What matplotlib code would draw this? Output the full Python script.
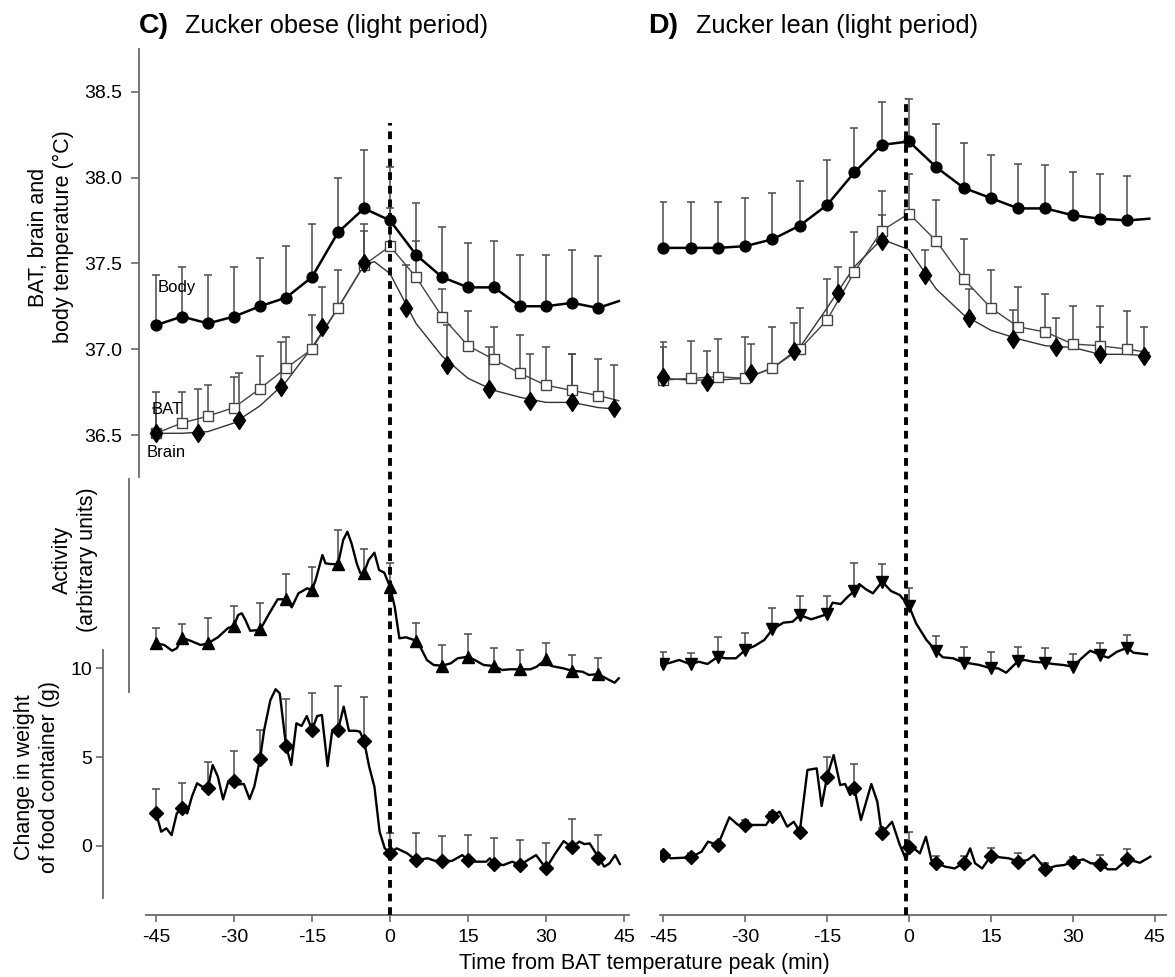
import numpy as np
import matplotlib
matplotlib.use("Agg")
import matplotlib.pyplot as plt

plt.rcParams['font.family'] = ['Liberation Sans', 'DejaVu Sans']

# ---------------- data ----------------
t_mark = [-45, -40, -35, -30, -25, -20, -15, -10, -5, 0, 5, 10, 15, 20, 25, 30, 35, 40]
t_brain = [-45, -37, -29, -21, -13, -5, 3, 11, 19, 27, 35, 43]
t_end = 44
x_ticks = [-45, -30, -15, 0, 15, 30, 45]
temp_ticks = [36.5, 37.0, 37.5, 38.0, 38.5]
food_ticks = [0, 5, 10]

# Zucker obese – temperatures (°C)
obese_body = [37.14, 37.19, 37.15, 37.19, 37.25, 37.30, 37.42, 37.68, 37.82, 37.75,
              37.55, 37.42, 37.36, 37.36, 37.25, 37.25, 37.27, 37.24]
obese_body_end = 37.28
obese_body_err = [0.29, 0.29, 0.28, 0.29, 0.28, 0.30, 0.31, 0.32, 0.34, 0.31,
                  0.30, 0.29, 0.26, 0.27, 0.30, 0.30, 0.31, 0.30]
obese_bat = [36.51, 36.57, 36.61, 36.66, 36.77, 36.89, 37.00, 37.24, 37.49, 37.60,
             37.42, 37.19, 37.02, 36.94, 36.86, 36.79, 36.76, 36.73]
obese_bat_end = 36.70
obese_bat_err = [0.24, 0.18, 0.18, 0.18, 0.19, 0.18, 0.20, 0.22, 0.24, 0.22,
                 0.21, 0.16, 0.20, 0.19, 0.22, 0.22, 0.21, 0.21]
obese_brain = [36.51, 36.51, 36.59, 36.78, 37.13, 37.50, 37.24, 36.91, 36.77, 36.70, 36.69, 36.66]
obese_brain_err = [0.15, 0.26, 0.27, 0.26, 0.23, 0.19, 0.25, 0.23, 0.24, 0.27, 0.28, 0.25]
obese_brain_line_t = [-45, -40, -35, -30, -25, -20, -15, -10, -5, -3, 0, 5, 10, 15, 20, 25, 30, 35, 40, 44]
obese_brain_line = [36.51, 36.51, 36.52, 36.57, 36.67, 36.81, 37.01, 37.24, 37.49, 37.51, 37.44,
                    37.15, 36.96, 36.83, 36.76, 36.72, 36.69, 36.69, 36.66, 36.65]

# Zucker lean – temperatures (°C)
lean_body = [37.59, 37.59, 37.59, 37.60, 37.64, 37.72, 37.84, 38.03, 38.19, 38.21,
             38.06, 37.94, 37.88, 37.82, 37.82, 37.78, 37.76, 37.75]
lean_body_end = 37.76
lean_body_err = [0.27, 0.27, 0.27, 0.28, 0.27, 0.26, 0.26, 0.26, 0.25, 0.25,
                 0.25, 0.26, 0.25, 0.26, 0.25, 0.25, 0.26, 0.26]
lean_bat = [36.82, 36.83, 36.84, 36.83, 36.89, 37.00, 37.17, 37.45, 37.69, 37.79,
            37.63, 37.41, 37.24, 37.13, 37.10, 37.03, 37.02, 37.00]
lean_bat_end = 36.98
lean_bat_err = [0.22, 0.22, 0.22, 0.24, 0.24, 0.24, 0.24, 0.23, 0.23, 0.23,
                0.24, 0.23, 0.22, 0.23, 0.22, 0.22, 0.23, 0.22]
lean_brain = [36.84, 36.81, 36.86, 36.99, 37.33, 37.63, 37.43, 37.18, 37.06, 37.01, 36.97, 36.96]
lean_brain_err = [0.17, 0.18, 0.17, 0.16, 0.15, 0.15, 0.15, 0.17, 0.17, 0.17, 0.16, 0.17]
lean_brain_line_t = [-45, -40, -35, -30, -25, -20, -15, -10, -5, 0, 5, 10, 15, 20, 25, 30, 35, 40, 44]
lean_brain_line = [36.83, 36.82, 36.82, 36.83, 36.89, 37.01, 37.24, 37.48, 37.64, 37.58,
                   37.35, 37.20, 37.11, 37.06, 37.02, 37.01, 36.97, 36.97, 36.96]

# Activity (arbitrary units)
obese_act = [5.67, 6.23, 5.67, 7.43, 7.07, 10.07, 11.0, 13.57, 12.73, 11.33,
             5.93, 3.43, 4.33, 3.4, 3.07, 4.07, 2.93, 2.6]
obese_act_err = [1.56, 1.34, 2.5, 2.0, 2.66, 2.53, 2.27, 3.43, 2.34, 2.4,
                 1.74, 2.07, 2.27, 1.77, 1.93, 1.6, 1.57, 1.63]
obese_act_line_t = [-45, -43.4, -41.9, -41, -40, -38.4, -36.4, -35, -33.1, -31.2,
                    -30, -29.2, -28.5, -27.8, -26.9, -25, -23.2, -21.6, -20, -18.9,
                    -17.6, -15.9, -15, -14.3, -13, -12.4, -11.5, -10, -9, -8.2,
                    -7.4, -6.4, -5.7, -5, -4.1, -3, -2.1, -1.1, 0, 0.9,
                    1.8, 3.1, 5, 5.8, 7.1, 8.4, 10, 11.7, 13, 15,
                    16.3, 18, 20, 21.6, 23, 25, 27, 28.2, 30, 31,
                    33.3, 35, 37, 38.3, 40, 41.9, 43.2, 44]
obese_act_line = [5.67, 5.5, 4.93, 5.17, 6.23, 5.93, 5.5, 5.67, 6.27, 7.17,
                  7.43, 8.5, 8.67, 8.0, 6.93, 7.0, 8.67, 10.07, 10.07, 9.27,
                  10.67, 11.17, 11.0, 12.0, 14.5, 13.67, 13.6, 13.57, 16.0, 16.83,
                  15.67, 13.67, 12.67, 12.73, 14.0, 14.73, 13.0, 12.73, 11.33, 9.33,
                  6.17, 6.27, 5.93, 5.33, 4.0, 3.5, 3.43, 3.67, 4.17, 4.33,
                  4.0, 3.5, 3.4, 3.0, 3.07, 3.07, 3.07, 3.33, 4.07, 3.4,
                  3.17, 2.93, 2.83, 2.5, 2.6, 2.07, 1.73, 2.17]

lean_act = [3.57, 3.57, 4.33, 5.0, 7.07, 8.5, 8.6, 10.9, 11.77, 9.4,
            4.9, 3.73, 3.17, 3.9, 3.67, 3.33, 4.5, 5.23]
lean_act_err = [1.2, 1.16, 2.0, 1.67, 2.1, 1.93, 1.8, 2.77, 1.8, 1.83,
                1.5, 1.6, 1.66, 1.43, 1.5, 1.27, 1.17, 1.27]
lean_act_line_t = [-45, -43.7, -42.1, -40, -38.5, -36.9, -35, -33.6, -31.7, -30,
                   -28.3, -26.5, -25, -23, -21.3, -20, -19.2, -17.9, -16.4, -15,
                   -14, -12.5, -11.2, -10, -9.1, -7.9, -6.6, -5, -4.5, -3.3,
                   -1.7, 0, 1.3, 3.2, 5, 6.2, 8.1, 10, 11.1, 12.9,
                   15, 16.3, 17.8, 20, 21.2, 22.7, 25, 26.4, 28.3, 30,
                   31.6, 33.2, 35, 36.5, 38.1, 40, 41.1, 43.6]
lean_act_line = [3.57, 3.73, 4.0, 3.57, 3.83, 3.6, 4.33, 4.17, 4.17, 5.0,
                 5.4, 6.0, 7.07, 7.73, 7.83, 8.5, 8.33, 8.07, 8.33, 8.6,
                 9.73, 9.6, 10.33, 10.9, 11.6, 11.07, 10.67, 11.77, 11.6, 10.9,
                 10.5, 9.4, 7.67, 6.0, 4.9, 4.27, 4.17, 3.73, 3.67, 3.5,
                 3.17, 3.17, 2.73, 3.9, 4.0, 3.83, 3.73, 3.6, 3.5, 3.33,
                 4.17, 4.93, 4.5, 4.23, 4.83, 5.23, 4.73, 4.57]

# Change in weight of food container (g)
obese_food = [1.86, 2.14, 3.27, 3.65, 4.87, 5.64, 6.52, 6.52, 5.92, -0.39,
              -0.81, -0.86, -0.81, -1.03, -1.09, -1.28, -0.09, -0.71]
obese_food_err = [1.32, 1.41, 1.43, 1.69, 1.65, 2.61, 2.11, 2.50, 2.44, 1.09,
                  1.54, 1.42, 1.41, 1.44, 1.41, 1.45, 1.59, 1.31]
obese_food_line_t = [-45, -44, -43, -42, -41, -40, -39, -38.1, -37.1, -36.1,
                     -35, -34.1, -33.1, -32.1, -31.1, -30, -29.1, -28.1, -27, -26.1,
                     -25, -24.2, -23, -22, -21.2, -20, -19, -18, -17, -16,
                     -15, -14, -13.1, -12, -11.1, -10, -8.9, -7.9, -6.6, -5.8,
                     -5, -4, -3, -2, -1, 0, 1.3, 3.3, 5, 7.3,
                     8.6, 10, 11.9, 13.9, 15, 16.5, 18.5, 19.2, 20, 21.8,
                     23.5, 25, 26.5, 28.1, 30, 31.8, 33.4, 35, 36.4, 37.4,
                     38.4, 40.2, 41.2, 42.2, 43.3, 44.2]
obese_food_line = [1.86, 0.79, 0.98, 0.60, 1.82, 2.14, 1.82, 2.76, 3.52, 3.33,
                   3.27, 4.55, 3.89, 2.61, 3.61, 3.65, 3.46, 3.48, 2.63, 3.33,
                   4.87, 6.52, 8.21, 8.82, 8.59, 5.64, 4.55, 6.90, 6.75, 7.31,
                   6.52, 7.31, 7.37, 4.49, 6.52, 6.52, 7.84, 6.48, 6.48, 6.43,
                   5.92, 4.45, 3.33, 0.79, -0.15, -0.39, -0.15, -0.43, -0.81, -0.71,
                   -0.85, -0.86, -0.86, -0.53, -0.81, -0.90, -0.90, -0.71, -1.03, -1.09,
                   -0.90, -1.09, -0.81, -0.53, -1.28, -0.43, 0.26, -0.09, 0.23, 0.09,
                   0.13, -0.71, -1.18, -1.00, -0.53, -1.03]

lean_food = [-0.52, -0.65, 0.04, 1.17, 1.69, 0.79, 3.89, 3.24, 0.70, -0.06,
             -0.96, -0.96, -0.58, -0.90, -1.33, -0.90, -1.03, -0.77]
lean_food_err = [0.18, 0.26, 0.19, 0.28, 0.23, 0.19, 1.09, 1.35, 0.28, 0.85,
                 0.38, 0.38, 0.43, 0.51, 0.37, 0.28, 0.51, 0.57]
lean_food_line_t = [-45, -43.6, -40, -38, -36.8, -35, -32.9, -31.3, -30, -27.9,
                    -26.2, -25, -23.7, -22.3, -21.1, -20, -18.6, -16.9, -16, -15,
                    -13.8, -12.6, -11.7, -10.8, -10, -8.8, -6.9, -5.8, -5, -3.1,
                    -1.7, -0.5, 0.1, 2.0, 3.1, 4.1, 5, 6.6, 8.4, 10,
                    11.2, 12.1, 13.4, 15, 16.8, 18.3, 20, 21.7, 22.9, 25,
                    26.9, 28.4, 30, 31.9, 33.3, 35, 36.4, 37.9, 40, 42.3, 44.2]
lean_food_line = [-0.52, -0.71, -0.66, -0.34, 0.23, 0.04, 1.60, 1.17, 1.17, 1.17,
                  1.17, 1.69, 1.92, 1.07, 1.35, 0.79, 4.27, 4.36, 2.24, 3.89,
                  5.11, 3.42, 3.48, 2.86, 3.23, 1.45, 3.48, 2.48, 0.70, 1.35,
                  0.06, -0.81, 0.06, -0.43, 0.51, -0.81, -0.96, -1.18, -1.28, -0.96,
                  -0.15, -0.99, -1.28, -0.58, -0.66, -0.71, -0.90, -0.81, -0.52, -1.33,
                  -1.14, -1.09, -0.90, -0.77, -0.99, -1.03, -1.33, -1.33, -0.77, -0.96, -0.62]

# ---------------- layout ----------------
W, H = 1175, 977
fig = plt.figure(figsize=(W / 100, H / 100), dpi=100)
Y_TOP, Y_BOT = 40, 915
TEMP_LIM = (33.704, 38.801)
FOOD_LIM = (-3.906, 45.42)
ACT_LIM = (-21.5, 66.0)
AX_COL = '#6a6a6a'
ERR_COL = '#4a4a4a'
TICK_FS = 14
LAB_FS = 15.5


def make_panel(x0, x1, xlim):
    rect = [x0 / W, 1 - Y_BOT / H, (x1 - x0) / W, (Y_BOT - Y_TOP) / H]
    axes = {}
    for name, lim in (("food", FOOD_LIM), ("act", ACT_LIM), ("temp", TEMP_LIM)):
        a = fig.add_axes(rect, label=f"{name}{x0}")
        a.patch.set_visible(False)
        a.set_xlim(*xlim)
        a.set_ylim(*lim)
        for s in a.spines.values():
            s.set_visible(False)
        a.tick_params(left=False, labelleft=False, bottom=False, labelbottom=False)
        axes[name] = a
    f = axes["food"]
    f.spines["bottom"].set_visible(True)
    f.spines["bottom"].set_color(AX_COL)
    f.spines["bottom"].set_linewidth(1.3)
    f.set_xticks(x_ticks)
    f.set_xticklabels([str(v) for v in x_ticks])
    f.tick_params(axis='x', bottom=True, labelbottom=True, direction='out', length=5,
                  width=1.2, color=AX_COL, labelsize=TICK_FS, pad=5)
    return axes


def upper_err(ax, t, y, e, col=ERR_COL):
    y = np.asarray(y)
    top = y + np.asarray(e)
    ax.vlines(t, y, top, color=col, lw=1.1, zorder=2)
    ax.plot(t, top, linestyle='none', marker='_', ms=6, mew=1.1, color=col, zorder=2)


def draw_temp(ax, body, body_err, body_end, bat, bat_err, bat_end,
              brain, brain_err, brain_lt, brain_l):
    tl = t_mark + [t_end]
    ax.plot(brain_lt, brain_l, color='#333333', lw=1.0, zorder=3)
    ax.plot(tl, bat + [bat_end], color='#444444', lw=1.0, zorder=3)
    ax.plot(tl, body + [body_end], color='black', lw=1.8, zorder=3)
    upper_err(ax, t_mark, body, body_err)
    upper_err(ax, t_mark, bat, bat_err)
    upper_err(ax, t_brain, brain, brain_err)
    ax.plot(t_mark, body, 'o', ms=7.8, color='black', zorder=5, clip_on=False)
    ax.plot(t_mark, bat, 's', ms=7.5, mfc='white', mec='#444444', mew=1.0, zorder=5, clip_on=False)
    ax.plot(t_brain, brain, 'd', ms=9.5, color='black', zorder=5, clip_on=False)


def draw_trace(ax, lt, l, marker_vals, err, marker, ms):
    ax.plot(lt, l, color='black', lw=1.7, zorder=3)
    upper_err(ax, t_mark, marker_vals, err)
    ax.plot(t_mark, marker_vals, marker, ms=ms, color='black', zorder=5)


# ---- left panel (obese) ----
L = make_panel(146, 629, (-46.92, 45.96))
draw_temp(L["temp"], obese_body, obese_body_err, obese_body_end,
          obese_bat, obese_bat_err, obese_bat_end,
          obese_brain, obese_brain_err, obese_brain_line_t, obese_brain_line)
draw_trace(L["act"], obese_act_line_t, obese_act_line, obese_act, obese_act_err, '^', 9)
draw_trace(L["food"], obese_food_line_t, obese_food_line, obese_food, obese_food_err, 'D', 7.5)
L["temp"].axvline(0, ymin=0, ymax=(Y_BOT - 123) / (Y_BOT - Y_TOP), color='black',
                  lw=2.8, ls=(0, (2, 1.5)), zorder=10)

# left spines
t_ax = L["temp"]
t_ax.spines["left"].set_visible(True)
t_ax.spines["left"].set_position(("outward", 4.8))
t_ax.spines["left"].set_bounds(36.255, 38.749)
t_ax.spines["left"].set_color(AX_COL)
t_ax.spines["left"].set_linewidth(1.3)
t_ax.set_yticks(temp_ticks)
t_ax.set_yticklabels([f"{v:.1f}" for v in temp_ticks])
t_ax.tick_params(axis='y', left=True, labelleft=True, direction='out', length=6,
                 width=1.2, color=AX_COL, labelsize=TICK_FS, pad=6)

a_ax = L["act"]
a_ax.spines["left"].set_visible(True)
a_ax.spines["left"].set_position(("outward", 12.2))
a_ax.spines["left"].set_bounds(0.8, 22.1)
a_ax.spines["left"].set_color(AX_COL)
a_ax.spines["left"].set_linewidth(1.3)

f_ax = L["food"]
f_ax.spines["left"].set_visible(True)
f_ax.spines["left"].set_position(("outward", 31.0))
f_ax.spines["left"].set_bounds(-2.94, 11.03)
f_ax.spines["left"].set_color(AX_COL)
f_ax.spines["left"].set_linewidth(1.3)
f_ax.set_yticks(food_ticks)
f_ax.set_yticklabels([str(v) for v in food_ticks])
f_ax.tick_params(axis='y', left=True, labelleft=True, direction='out', length=5,
                 width=1.2, color=AX_COL, labelsize=TICK_FS, pad=3)

# series labels
t_ax.text(-44.6, 37.362, "Body", fontsize=12, va='center', ha='left', zorder=6)
t_ax.text(-45.8, 36.646, "BAT", fontsize=12, va='center', ha='left', zorder=6)
t_ax.text(-46.8, 36.40, "Brain", fontsize=12, va='center', ha='left', zorder=6)

# ---- right panel (lean) ----
R = make_panel(660, 1166, (-45.6, 47.07))
draw_temp(R["temp"], lean_body, lean_body_err, lean_body_end,
          lean_bat, lean_bat_err, lean_bat_end,
          lean_brain, lean_brain_err, lean_brain_line_t, lean_brain_line)
draw_trace(R["act"], lean_act_line_t, lean_act_line, lean_act, lean_act_err, 'v', 9)
draw_trace(R["food"], lean_food_line_t, lean_food_line, lean_food, lean_food_err, 'D', 7.5)
R["temp"].axvline(-0.6, ymin=0, ymax=(Y_BOT - 98) / (Y_BOT - Y_TOP), color='black',
                  lw=2.8, ls=(0, (2, 1.5)), zorder=10)

# ---- texts ----
def fx(px):
    return px / W


def fy(py):
    return 1 - py / H


fig.text(fx(139), fy(33), "C)", fontsize=20.5, fontweight='bold', ha='left', va='baseline')
fig.text(fx(185), fy(33), "Zucker obese (light period)", fontsize=18.3, ha='left', va='baseline')
fig.text(fx(648), fy(33), "D)", fontsize=20.5, fontweight='bold', ha='left', va='baseline')
fig.text(fx(696), fy(33), "Zucker lean (light period)", fontsize=18.3, ha='left', va='baseline')

fig.text(fx(51), fy(237), "BAT, brain and\nbody temperature (°C)", fontsize=LAB_FS,
         rotation=90, ha='center', va='center', multialignment='center')
fig.text(fx(75), fy(560), "Activity\n(arbitrary units)", fontsize=LAB_FS,
         rotation=90, ha='center', va='center', multialignment='center')
fig.text(fx(37), fy(777), "Change in weight\nof food container (g)", fontsize=LAB_FS,
         rotation=90, ha='center', va='center', multialignment='center')
fig.text(fx(644), fy(963), "Time from BAT temperature peak (min)", fontsize=LAB_FS,
         ha='center', va='center')

fig.savefig("out.png", dpi=100)
